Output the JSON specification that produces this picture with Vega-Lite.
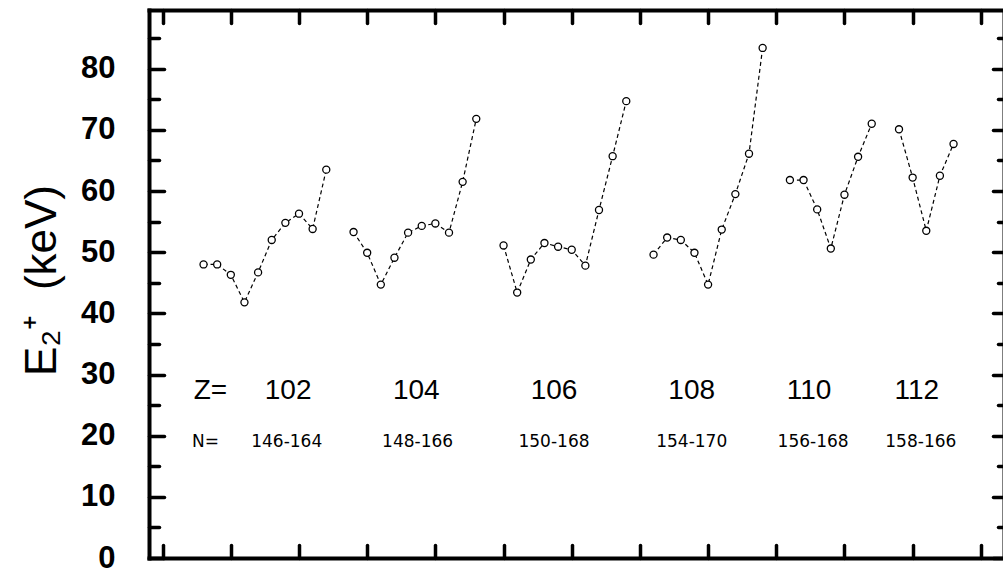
{
  "$schema": "https://vega.github.io/schema/vega-lite/v6.json",
  "width": 855,
  "height": 548,
  "autosize": {"type": "none"},
  "padding": {"left": 149, "top": 10, "right": 0, "bottom": 20},
  "background": "white",
  "config": {"view": {"stroke": null}},
  "datasets": {
    "pts": [
      {"Z": 102, "N": 146, "idx": 0, "E": 48.0},
      {"Z": 102, "N": 148, "idx": 1, "E": 48.0},
      {"Z": 102, "N": 150, "idx": 2, "E": 46.3},
      {"Z": 102, "N": 152, "idx": 3, "E": 41.8},
      {"Z": 102, "N": 154, "idx": 4, "E": 46.7},
      {"Z": 102, "N": 156, "idx": 5, "E": 52.0},
      {"Z": 102, "N": 158, "idx": 6, "E": 54.8},
      {"Z": 102, "N": 160, "idx": 7, "E": 56.3},
      {"Z": 102, "N": 162, "idx": 8, "E": 53.8},
      {"Z": 102, "N": 164, "idx": 9, "E": 63.5},
      {"Z": 104, "N": 148, "idx": 11, "E": 53.3},
      {"Z": 104, "N": 150, "idx": 12, "E": 49.9},
      {"Z": 104, "N": 152, "idx": 13, "E": 44.7},
      {"Z": 104, "N": 154, "idx": 14, "E": 49.1},
      {"Z": 104, "N": 156, "idx": 15, "E": 53.2},
      {"Z": 104, "N": 158, "idx": 16, "E": 54.3},
      {"Z": 104, "N": 160, "idx": 17, "E": 54.7},
      {"Z": 104, "N": 162, "idx": 18, "E": 53.2},
      {"Z": 104, "N": 164, "idx": 19, "E": 61.5},
      {"Z": 104, "N": 166, "idx": 20, "E": 71.8},
      {"Z": 106, "N": 150, "idx": 22, "E": 51.1},
      {"Z": 106, "N": 152, "idx": 23, "E": 43.4},
      {"Z": 106, "N": 154, "idx": 24, "E": 48.8},
      {"Z": 106, "N": 156, "idx": 25, "E": 51.5},
      {"Z": 106, "N": 158, "idx": 26, "E": 50.9},
      {"Z": 106, "N": 160, "idx": 27, "E": 50.4},
      {"Z": 106, "N": 162, "idx": 28, "E": 47.8},
      {"Z": 106, "N": 164, "idx": 29, "E": 56.9},
      {"Z": 106, "N": 166, "idx": 30, "E": 65.7},
      {"Z": 106, "N": 168, "idx": 31, "E": 74.7},
      {"Z": 108, "N": 154, "idx": 33, "E": 49.6},
      {"Z": 108, "N": 156, "idx": 34, "E": 52.4},
      {"Z": 108, "N": 158, "idx": 35, "E": 52.0},
      {"Z": 108, "N": 160, "idx": 36, "E": 49.9},
      {"Z": 108, "N": 162, "idx": 37, "E": 44.7},
      {"Z": 108, "N": 164, "idx": 38, "E": 53.7},
      {"Z": 108, "N": 166, "idx": 39, "E": 59.5},
      {"Z": 108, "N": 168, "idx": 40, "E": 66.1},
      {"Z": 108, "N": 170, "idx": 41, "E": 83.4},
      {"Z": 110, "N": 156, "idx": 43, "E": 61.8},
      {"Z": 110, "N": 158, "idx": 44, "E": 61.8},
      {"Z": 110, "N": 160, "idx": 45, "E": 57.0},
      {"Z": 110, "N": 162, "idx": 46, "E": 50.6},
      {"Z": 110, "N": 164, "idx": 47, "E": 59.4},
      {"Z": 110, "N": 166, "idx": 48, "E": 65.6},
      {"Z": 110, "N": 168, "idx": 49, "E": 71.0},
      {"Z": 112, "N": 158, "idx": 51, "E": 70.1},
      {"Z": 112, "N": 160, "idx": 52, "E": 62.2},
      {"Z": 112, "N": 162, "idx": 53, "E": 53.5},
      {"Z": 112, "N": 164, "idx": 54, "E": 62.5},
      {"Z": 112, "N": 166, "idx": 55, "E": 67.7}
    ],
    "zlab": [
      {"t": "Z=", "x": 0.5, "y": 27.3},
      {"t": "102", "x": 6.2, "y": 27.3},
      {"t": "104", "x": 15.6, "y": 27.3},
      {"t": "106", "x": 25.7, "y": 27.3},
      {"t": "108", "x": 35.8, "y": 27.3},
      {"t": "110", "x": 44.4, "y": 27.3},
      {"t": "112", "x": 52.3, "y": 27.3}
    ],
    "nlab": [
      {"t": "N=", "x": 0.15, "y": 19.0},
      {"t": "146-164", "x": 6.1, "y": 19.0},
      {"t": "148-166", "x": 15.7, "y": 19.0},
      {"t": "150-168", "x": 25.7, "y": 19.0},
      {"t": "154-170", "x": 35.8, "y": 19.0},
      {"t": "156-168", "x": 44.7, "y": 19.0},
      {"t": "158-166", "x": 52.6, "y": 19.0}
    ]
  },
  "layer": [
    {
      "data": {"name": "pts"},
      "mark": {"type": "line", "strokeDash": [4, 3], "strokeWidth": 1.2, "color": "black"},
      "encoding": {
        "x": {
          "field": "idx", "type": "quantitative",
          "scale": {"domain": [-4, 58.7], "nice": false, "zero": false},
          "axis": {
            "orient": "bottom", "title": null, "labels": false, "grid": false,
            "values": [-3, 2, 7, 12, 17, 22, 27, 32, 37, 42, 47, 52, 57],
            "tickSize": -13, "tickWidth": 3.5, "tickCap": "round", "tickColor": "black",
            "domainColor": "black", "domainWidth": 4, "domainCap": "square"
          }
        },
        "y": {
          "field": "E", "type": "quantitative",
          "scale": {"domain": [0, 89.6], "nice": false, "zero": true},
          "axis": {
            "orient": "left", "grid": false,
            "values": [0, 5, 10, 15, 20, 25, 30, 35, 40, 45, 50, 55, 60, 65, 70, 75, 80, 85],
            "labelExpr": "datum.value % 10 === 0 ? datum.label : ''",
            "tickSize": {"condition": {"test": "datum.value % 10 === 0", "value": -15}, "value": -10},
            "tickWidth": 3.5, "tickCap": "round", "tickColor": "black",
            "domainColor": "black", "domainWidth": 4, "domainCap": "square",
            "labelFont": "Liberation Sans", "labelFontWeight": "bold", "labelFontSize": 31,
            "labelColor": "black", "labelPadding": 49, "labelOverlap": false, "labelFlush": false, "labelBound": false,
            "title": "E₂⁺\u00a0\u00a0(keV)",
            "titleFont": "Liberation Sans", "titleFontSize": 44, "titleFontWeight": "normal",
            "titleColor": "black", "titleAngle": -90, "titleX": -94, "titleY": 270,
            "titleAlign": "center", "titleBaseline": "alphabetic"
          }
        },
        "detail": {"field": "Z"},
        "order": {"field": "idx"}
      }
    },
    {
      "data": {"name": "pts"},
      "mark": {"type": "point", "shape": "circle", "size": 50, "filled": true, "fill": "white", "stroke": "black", "strokeWidth": 1.3, "opacity": 1},
      "encoding": {
        "x": {
          "field": "idx", "type": "quantitative",
          "axis": {
            "orient": "top", "title": null, "labels": false, "grid": false,
            "values": [-3, 2, 7, 12, 17, 22, 27, 32, 37, 42, 47, 52, 57],
            "tickSize": -13, "tickWidth": 3.5, "tickCap": "round", "tickColor": "black",
            "domainColor": "black", "domainWidth": 4, "domainCap": "square"
          }
        },
        "y": {
          "field": "E", "type": "quantitative",
          "axis": {
            "orient": "right", "title": null, "labels": false, "grid": false,
            "values": [0, 5, 10, 15, 20, 25, 30, 35, 40, 45, 50, 55, 60, 65, 70, 75, 80, 85],
            "tickSize": {"condition": {"test": "datum.value % 10 === 0", "value": -11}, "value": -6},
            "tickWidth": 3.5, "tickCap": "round", "tickColor": "black",
            "domainColor": "black", "domainWidth": 4
          }
        }
      }
    },
    {
      "data": {"name": "zlab"},
      "mark": {"type": "text", "font": "Liberation Sans", "fontSize": 28, "fontWeight": 300, "color": "black", "align": "center", "baseline": "middle"},
      "encoding": {
        "x": {"field": "x", "type": "quantitative", "axis": null},
        "y": {"field": "y", "type": "quantitative", "axis": null},
        "text": {"field": "t"}
      }
    },
    {
      "data": {"name": "nlab"},
      "mark": {"type": "text", "font": "DejaVu Sans", "fontSize": 17, "fontWeight": "normal", "color": "black", "align": "center", "baseline": "middle"},
      "encoding": {
        "x": {"field": "x", "type": "quantitative", "axis": null},
        "y": {"field": "y", "type": "quantitative", "axis": null},
        "text": {"field": "t"}
      }
    }
  ],
  "resolve": {"axis": {"x": "independent", "y": "independent"}}
}
